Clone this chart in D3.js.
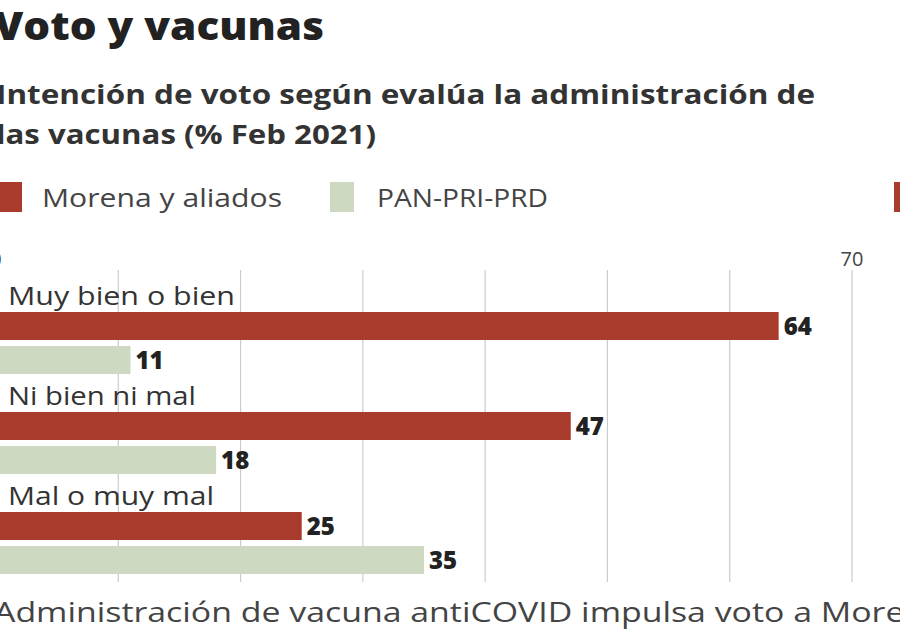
<!DOCTYPE html>
<html><head><meta charset="utf-8">
<script src="https://cdn.jsdelivr.net/npm/d3@7"></script>
<style>body{margin:0;background:#fff}svg{display:block}text{font-family:"Open Sans",Lato,sans-serif}</style>
</head><body>
<script>
const categories = ["Muy bien o bien","Ni bien ni mal","Mal o muy mal"];
const morena = [64,47,25];
const opos = [11,18,35];
const seriesNames = ["Morena y aliados","PAN-PRI-PRD"];
const tickValues = [0,10,20,30,40,50,60,70];
const colors = ["#a83b2b","#cdd9c0"];

const W=900,H=630;
const svg=d3.select("body").append("svg").attr("width",W).attr("height",H);
const x=d3.scaleLinear().domain([0,70]).range([-4,852]);
const y=d3.scaleBand().domain(categories).range([280,580]);
function T(px,py,s,w,fill,str,len){
  const t=svg.append("text").attr("x",px).attr("y",py).attr("font-size",s).attr("font-weight",w).attr("fill",fill).text(str);
  if(len) t.attr("textLength",len).attr("lengthAdjust","spacingAndGlyphs");
  return t;
}
T(-6,40,38,800,"#222","Voto y vacunas",330);
T(-4,104,27,700,"#333","Intención de voto según evalúa la administración de",819);
T(-4,144,27,700,"#333","las vacunas (% Feb 2021)",380);

const lg=[{x:-2,t:42,l:240},{x:330,t:377,l:171}];
seriesNames.forEach((n,i)=>{
  svg.append("rect").attr("x",lg[i].x).attr("y",182).attr("width",24).attr("height",30).attr("fill",colors[i]);
  T(lg[i].t,207,26,400,"#444",n,lg[i].l);
});
svg.append("rect").attr("x",894).attr("y",182).attr("width",10).attr("height",30).attr("fill",colors[0]);

svg.selectAll("line.g").data(tickValues).join("line")
  .attr("x1",d=>x(d)).attr("x2",d=>x(d)).attr("y1",270).attr("y2",582)
  .attr("stroke","#ccc").attr("stroke-width",1.2);
svg.selectAll("text.t").data([0,70]).join("text")
  .attr("x",d=>x(d)).attr("y",266).attr("text-anchor","middle").attr("font-size",20).attr("fill","#444").text(d=>d);

const catLen=[227,188,206];
categories.forEach((c,i)=>{
  const y0=y(c);
  T(8,y0+25,25,400,"#333",c,catLen[i]);
  [morena[i],opos[i]].forEach((v,j)=>{
    const by=y0+32+j*34;
    svg.append("rect").attr("x",x(0)).attr("y",by).attr("width",x(v)-x(0)).attr("height",28).attr("fill",colors[j]);
    T(x(v)+5,by+23,24,800,"#222",v);
  });
});

T(-6,622,28,400,"#444","Administración de vacuna antiCOVID impulsa voto a Morena",950);
</script>
</body></html>
